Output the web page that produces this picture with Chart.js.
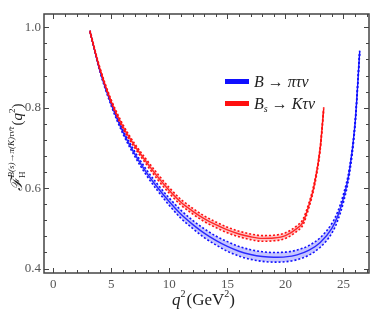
<!DOCTYPE html>
<html><head><meta charset="utf-8">
<script src="https://cdn.jsdelivr.net/npm/chart.js@4"></script>
<style>html,body{margin:0;padding:0;background:#fff}</style>
</head><body>
<canvas id="c" width="374" height="312"></canvas>
<script>
// B -> pi tau nu
const qB   = [3.16, 4, 5, 6, 7, 8, 9, 10, 11, 12, 13, 14, 15, 16, 17, 18, 19, 20, 21, 22, 23, 24, 24.5, 25, 25.5, 26, 26.4];
const fB   = [0.990, 0.894, 0.808, 0.740, 0.686, 0.640, 0.601, 0.566, 0.535, 0.510, 0.488, 0.470, 0.455, 0.443, 0.435, 0.430, 0.428, 0.429, 0.434, 0.445, 0.465, 0.500, 0.530, 0.575, 0.640, 0.760, 0.940];
const fBHi = [0.992, 0.897, 0.812, 0.745, 0.692, 0.647, 0.609, 0.575, 0.545, 0.520, 0.499, 0.481, 0.467, 0.455, 0.447, 0.442, 0.440, 0.441, 0.446, 0.457, 0.477, 0.512, 0.541, 0.585, 0.648, 0.765, 0.942];
const fBLo = [0.988, 0.891, 0.804, 0.735, 0.680, 0.633, 0.593, 0.557, 0.525, 0.500, 0.477, 0.459, 0.443, 0.431, 0.423, 0.418, 0.416, 0.417, 0.422, 0.433, 0.453, 0.488, 0.519, 0.565, 0.632, 0.755, 0.938];
// Bs -> K tau nu
const qBs   = [3.16, 4, 5, 6, 7, 8, 9, 10, 11, 12, 13, 14, 15, 16, 17, 18, 19, 20, 21, 21.5, 22, 22.5, 23, 23.3];
const fBs   = [0.990, 0.898, 0.815, 0.753, 0.706, 0.666, 0.628, 0.594, 0.565, 0.543, 0.524, 0.509, 0.496, 0.486, 0.479, 0.475, 0.476, 0.482, 0.500, 0.515, 0.555, 0.610, 0.700, 0.798];
const fBsHi = [0.992, 0.901, 0.819, 0.758, 0.711, 0.672, 0.635, 0.601, 0.572, 0.550, 0.531, 0.516, 0.503, 0.493, 0.486, 0.482, 0.483, 0.489, 0.507, 0.522, 0.561, 0.615, 0.704, 0.801];
const fBsLo = [0.988, 0.895, 0.811, 0.748, 0.701, 0.660, 0.621, 0.587, 0.558, 0.536, 0.517, 0.502, 0.489, 0.479, 0.472, 0.468, 0.469, 0.475, 0.493, 0.508, 0.549, 0.605, 0.696, 0.795];

const xTicks = [0, 5, 10, 15, 20, 25];
const yTicks = [0.4, 0.6, 0.8, 1.0];

const BLUE = '#1010ff', RED = '#ff1010';
const pts = (xs, ys) => xs.map((x, i) => ({x: x, y: ys[i]}));

function band(xs, hi, lo, mid, col, fillCol) {
  return [
    {data: pts(xs, hi), borderColor: col, borderWidth: 1.6, borderDash: [2, 2], fill: false},
    {data: pts(xs, lo), borderColor: col, borderWidth: 1.6, borderDash: [2, 2], fill: '-1', backgroundColor: fillCol},
    {data: pts(xs, mid), borderColor: col, borderWidth: 1.4, fill: false}
  ];
}

function runs(ctx, x, y, list) {
  list.forEach(r => {
    ctx.font = r.f;
    ctx.fillText(r.t, x, y + (r.dy || 0));
    x += ctx.measureText(r.t).width + (r.sp || 0);
  });
  return x;
}

const frame = {
  id: 'frame',
  afterDraw(chart) {
    const ctx = chart.ctx, a = chart.chartArea;
    const xs = chart.scales.x, ys = chart.scales.y;
    ctx.save();
    ctx.strokeStyle = '#444';
    ctx.lineWidth = 1.5;
    ctx.strokeRect(a.left, a.top, a.right - a.left, a.bottom - a.top);
    ctx.lineWidth = 1;
    ctx.beginPath();
    for (let v = 0; v <= 27; v++) {
      const px = Math.round(xs.getPixelForValue(v)) + 0.5;
      const len = v % 5 === 0 ? 5 : 3;
      ctx.moveTo(px, a.bottom); ctx.lineTo(px, a.bottom - len);
      ctx.moveTo(px, a.top); ctx.lineTo(px, a.top + len);
    }
    for (let k = 10; k <= 25; k++) {
      const v = k * 0.04;
      const py = Math.round(ys.getPixelForValue(v)) + 0.5;
      const len = k % 5 === 0 ? 5 : 3;
      ctx.moveTo(a.left, py); ctx.lineTo(a.left + len, py);
      ctx.moveTo(a.right, py); ctx.lineTo(a.right - len, py);
    }
    ctx.stroke();

    // legend
    ctx.fillStyle = BLUE;
    ctx.fillRect(225, 79, 24, 5);
    ctx.fillStyle = RED;
    ctx.fillRect(225, 101, 24, 5);
    ctx.fillStyle = '#222';
    ctx.textBaseline = 'alphabetic';
    ctx.textAlign = 'left';
    const it = 'italic 16px "Liberation Serif"', up = '16px "Liberation Serif"', sm = 'italic 10px "Liberation Serif"';
    runs(ctx, 254, 87, [{t: 'B', f: it, sp: 4}, {t: '→', f: up, sp: 4}, {t: 'πτν', f: it}]);
    runs(ctx, 254, 109, [{t: 'B', f: it}, {t: 's', f: sm, dy: 3, sp: 4}, {t: '→', f: up, sp: 4}, {t: 'Kτν', f: it}]);

    // x title
    runs(ctx, 172, 305, [{t: 'q', f: 'italic 17px "Liberation Serif"'}, {t: '2', f: '10px "Liberation Serif"', dy: -8, sp: 1},
      {t: '(GeV', f: '17px "Liberation Serif"'}, {t: '2', f: '10px "Liberation Serif"', dy: -8}, {t: ')', f: '17px "Liberation Serif"'}]);

    // y title
    ctx.translate(22, 191);
    ctx.rotate(-Math.PI / 2);
    runs(ctx, 0, 0, [{t: 'ℱ', f: 'italic 16px "DejaVu Serif"', sp: 0},
      {t: 'H', f: '9px "Liberation Serif"', dy: 3, sp: -6},
      {t: 'B(s)→π(K)τν̄τ', f: 'italic 9px "Liberation Serif"', dy: -8, sp: 1},
      {t: '(', f: '15px "Liberation Serif"'}, {t: 'q', f: 'italic 15px "Liberation Serif"'},
      {t: '2', f: '9px "Liberation Serif"', dy: -7}, {t: ')', f: '15px "Liberation Serif"'}]);
    ctx.restore();
  }
};

new Chart(document.getElementById('c'), {
  type: 'line',
  data: {
    datasets: [].concat(
      band(qBs, fBsHi, fBsLo, fBs, RED, 'rgba(255,90,90,0.35)'),
      band(qB, fBHi, fBLo, fB, BLUE, 'rgba(90,90,255,0.35)')
    )
  },
  options: {
    responsive: false,
    devicePixelRatio: 1,
    animation: false,
    layout: {padding: {left: 0, right: 5, top: 14, bottom: 0}},
    elements: {point: {radius: 0}, line: {cubicInterpolationMode: 'monotone'}},
    plugins: {legend: {display: false}, tooltip: {enabled: false}},
    scales: {
      x: {
        type: 'linear', min: -0.8, max: 27.2,
        grid: {display: false, drawTicks: false},
        border: {display: false},
        afterBuildTicks: s => { s.ticks = xTicks.map(v => ({value: v})); },
        afterFit: s => { s.height = 39; },
        ticks: {padding: 4, color: '#555', font: {family: '"Liberation Serif"', size: 13}, maxRotation: 0}
      },
      y: {
        type: 'linear', min: 0.389, max: 1.033,
        grid: {display: false, drawTicks: false},
        border: {display: false},
        afterBuildTicks: s => { s.ticks = yTicks.map(v => ({value: v})); },
        afterFit: s => { s.width = 44; },
        ticks: {padding: 3, color: '#555', font: {family: '"Liberation Serif"', size: 13}, callback: v => v.toFixed(1)}
      }
    }
  },
  plugins: [frame]
});
</script>
</body></html>
